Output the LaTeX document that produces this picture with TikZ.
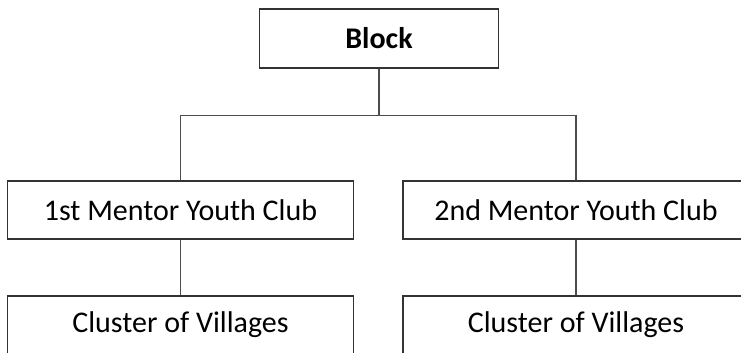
\documentclass[tikz,border=0pt]{standalone}
\usepackage{fontspec}
\setmainfont{Carlito}
\begin{document}
\begin{tikzpicture}[x=1pt,y=-1pt]
        \tikzstyle{unit box}=[rectangle,draw=black!80,line width=1.3pt,minimum width=346pt,minimum height=58pt,inner sep=0pt,font=\fontsize{30}{36}\selectfont]
        \tikzstyle{top box}=[unit box,minimum width=239pt,minimum height=59pt,font=\fontsize{30}{36}\selectfont\bfseries]
        \tikzstyle{link}=[draw=black!70,line width=1.2pt]

        \useasboundingbox (0,0) rectangle (741,353);
        \clip (0,0) rectangle (741,353);

        \node[top box] (block) at (379,38.5) {Block};
        \node[unit box] (mentor1) at (180.5,210) {1st Mentor Youth Club};
        \node[unit box] (mentor2) at (576,210) {2nd Mentor Youth Club};
        \node[unit box] (cluster1) at (180.5,325) {Cluster of Villages};
        \node[unit box] (cluster2) at (576,325) {Cluster of Villages};

        \draw[link] (block.south) -- ++(0,47) coordinate (fork);
        \draw[link] (fork) -| (mentor1.north);
        \draw[link] (fork) -| (mentor2.north);
        \draw[link] (mentor1.south) -- (cluster1.north);
        \draw[link] (mentor2.south) -- (cluster2.north);
    \end{tikzpicture}
\end{document}
